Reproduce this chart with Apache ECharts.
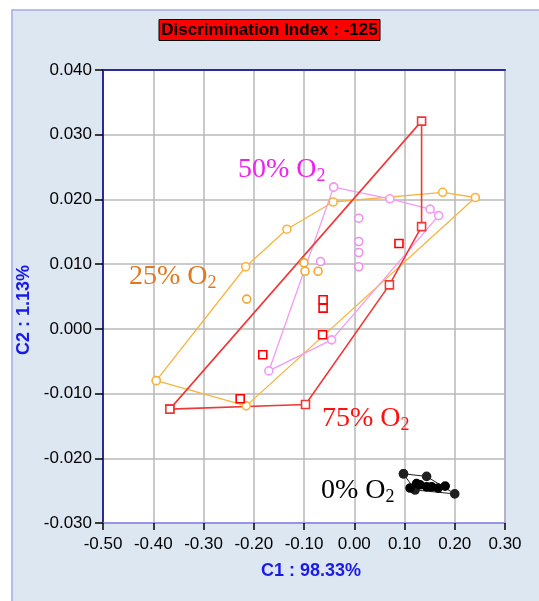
<!DOCTYPE html>
<html><head><meta charset="utf-8">
<script src="https://cdn.jsdelivr.net/npm/echarts@6/dist/echarts.min.js"></script>
<style>html,body{margin:0;padding:0;background:#fff;}#c{width:539px;height:601px;}</style>
</head><body><div id="c"></div>
<script>
const xTicks = [-0.5, 0.3, 0.1];
const yTicks = [-0.03, 0.04, 0.01];
const titleText = 'Discrimination Index : -125';
const xName = 'C1 : 98.33%';
const yName = 'C2 : 1.13%';
const groupNames = ['75% O', '25% O', '50% O', '0% O'];

const redHull = [[-0.367,-0.0124],[0.134,0.0321],[0.134,0.0158],[0.070,0.0068],[-0.097,-0.0117],[-0.367,-0.0124]];
const redInner = [[0.089,0.0132],[-0.062,0.0045],[-0.062,0.0032],[-0.063,-0.0009],[-0.182,-0.0040],[-0.227,-0.0108]];
const orangeHull = [[-0.394,-0.0080],[-0.215,-0.0119],[0.241,0.0203],[0.176,0.0211],[-0.042,0.0196],[-0.134,0.0154],[-0.216,0.0096],[-0.394,-0.0080]];
const orangeInner = [[-0.214,0.0046],[-0.100,0.0102],[-0.098,0.0089],[-0.072,0.0089]];
const pinkHull = [[-0.041,0.0219],[0.071,0.0201],[0.151,0.0185],[0.168,0.0175],[-0.045,-0.0017],[-0.170,-0.0065],[-0.041,0.0219]];
const pinkInner = [[0.009,0.0171],[0.009,0.0135],[0.009,0.0118],[0.009,0.0096],[-0.067,0.0104]];
const blackHull = [[0.098,-0.0224],[0.144,-0.0228],[0.200,-0.0255],[0.121,-0.0249],[0.098,-0.0224]];
const blackInner = [[0.111,-0.0246],[0.131,-0.0241],[0.124,-0.0239],[0.144,-0.0244],[0.154,-0.0244],[0.167,-0.0246],[0.181,-0.0243]];

const chart = echarts.init(document.getElementById('c'), null, {renderer:'canvas'});
const tickFont = {fontFamily:'Liberation Sans', fontSize:17, color:'#000'};
function lbl(name, color){
  return {
    text: '{m|' + name + '}{s|2}',
    fill: color,
    rich: {
      m:{fontFamily:'Liberation Serif', fontSize:28, fill:color, color:color, lineHeight:30, verticalAlign:'middle'},
      s:{fontFamily:'Liberation Serif', fontSize:18, fill:color, color:color, lineHeight:30, verticalAlign:'bottom'}
    }
  };
}
function hullSeries(data, color, symbol, size, lw, filled){
  return {type:'line', data:data, symbol:symbol, symbolSize:size, showAllSymbol:true,
    lineStyle:{color:color, width:lw}, itemStyle:{color:filled?color:'#fff', borderColor:color, borderWidth:1.6},
    animation:false, z:3};
}
function innerSeries(data, color, symbol, size, filled){
  return {type:'scatter', data:data, symbol:symbol, symbolSize:size,
    itemStyle:{color:filled?color:'#fff', borderColor:color, borderWidth:1.6, opacity:1}, animation:false, z:4};
}
const option = {
  backgroundColor:'#fff',
  animation:false,
  title:{text:titleText, left:'center', top:19, backgroundColor:'#ff0000', borderColor:'#000', borderWidth:1,
    padding:[3,3,2,3], textStyle:{fontFamily:'Liberation Sans', fontWeight:'bold', fontSize:17, color:'#000'}},
  graphic:[
    {type:'rect', shape:{x:12, y:10, width:540, height:600}, style:{fill:'#dde7f2', stroke:'#a8a8e8', lineWidth:1.5}, z:-100, silent:true},
    {type:'text', left:238, top:156, z:100, style:lbl(groupNames[2], '#f020f0')},
    {type:'text', left:129, top:263, z:100, style:lbl(groupNames[1], '#e07820')},
    {type:'text', left:322, top:405, z:100, style:lbl(groupNames[0], '#ff1010')},
    {type:'text', left:321, top:477, z:100, style:lbl(groupNames[3], '#000')}
  ],
  grid:{left:103, right:34, top:70, bottom:78, show:true, backgroundColor:'#fff', borderColor:'#8c8cf0', borderWidth:1.5},
  xAxis:[{type:'value', min:xTicks[0], max:xTicks[1], interval:xTicks[2],
    axisLine:{show:true, onZero:false, lineStyle:{color:'#8c8cf0', width:1.5}},
    axisTick:{show:true, length:7, lineStyle:{color:'#000', width:1.5}},
    axisLabel:Object.assign({margin:13, formatter:v=>v.toFixed(2)}, tickFont),
    splitLine:{show:true, lineStyle:{color:'#b8b8b8', width:1.5}},
    name:xName, nameLocation:'middle', nameGap:48,
    nameTextStyle:{fontFamily:'Liberation Sans', fontWeight:'bold', fontSize:18, color:'#1a1ae8', padding:[0,0,0,14], verticalAlign:'middle'}
  },{type:'value', position:'top', min:xTicks[0], max:xTicks[1], interval:xTicks[2],
    axisLine:{show:true, onZero:false, lineStyle:{color:'#2a2a9a', width:2}}, axisTick:{show:false}, axisLabel:{show:false}, splitLine:{show:false}}],
  yAxis:[{type:'value', min:yTicks[0], max:yTicks[1], interval:yTicks[2],
    axisLine:{show:true, onZero:false, lineStyle:{color:'#2a2a9a', width:2}},
    axisTick:{show:true, length:8, lineStyle:{color:'#000', width:1.5}},
    axisLabel:Object.assign({margin:11, formatter:v=>v.toFixed(3)}, tickFont),
    splitLine:{show:true, lineStyle:{color:'#b8b8b8', width:1.5}},
    name:yName, nameLocation:'middle', nameGap:65, nameRotate:90,
    nameTextStyle:{fontFamily:'Liberation Sans', fontWeight:'bold', fontSize:18, color:'#1a1ae8', padding:[0,27,0,0], verticalAlign:'middle'}
  }],
  series:[
    hullSeries(orangeHull, '#f8b440', 'circle', 8, 1.3, false),
    innerSeries(orangeInner, '#f4a830', 'circle', 8, false),
    hullSeries(pinkHull, '#f29af2', 'circle', 8, 1.3, false),
    innerSeries(pinkInner, '#ec90ec', 'circle', 8, false),
    hullSeries(redHull, '#f03838', 'rect', 8, 1.6, false),
    innerSeries(redInner, '#ff0000', 'rect', 8, false),
    hullSeries(blackHull, '#202020', 'circle', 8, 1, true),
    innerSeries(blackInner, '#000', 'circle', 8, true)
  ]
};
chart.setOption(option);
</script></body></html>
